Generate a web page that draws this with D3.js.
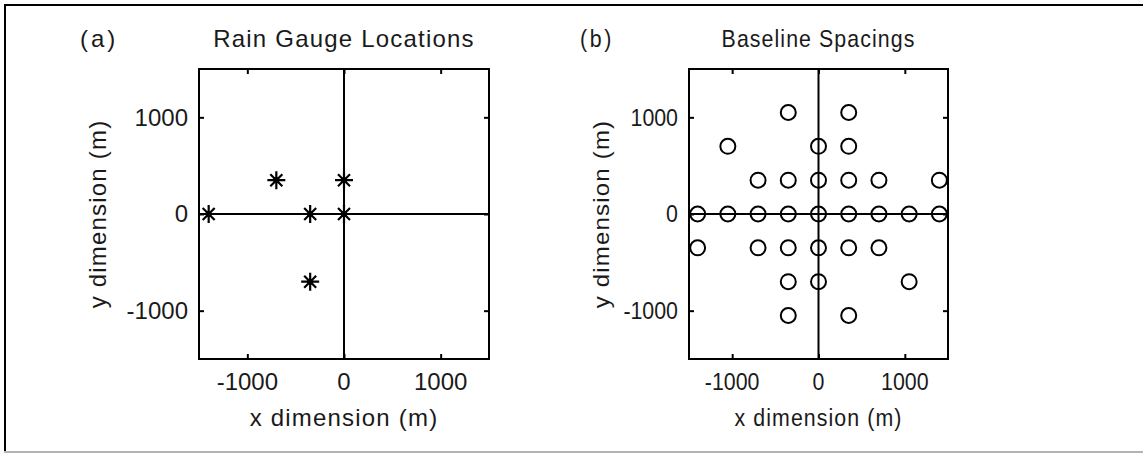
<!DOCTYPE html>
<html>
<head>
<meta charset="utf-8">
<script src="https://cdn.jsdelivr.net/npm/d3@7"></script>
<style>
    html, body { margin: 0; padding: 0; background: #fff; }
    svg { display: block; font-family: "Liberation Sans", Arial, sans-serif; }
    .lbl { fill: #1a1a1a; font-size: 24px; }
</style>
</head>
<body>
<div id="chart"></div>
<script>
// axis ticks (m)
const tickValues = [-1000, 0, 1000];
const domainMin = -1500;
const domainMax = 1500;

// (a) rain gauge locations (m)
const gaugeX = [-1400, -700, -350, 0, 0, -350];
const gaugeY = [0, 350, 0, 350, 0, -700];

// (b) baseline spacings (m)
const spacingX = [-350, 350,
    -1050, 0, 350,
    -700, -350, 0, 350, 700, 1400,
    -1400, -1050, -700, -350, 0, 350, 700, 1050, 1400,
    -1400, -700, -350, 0, 350, 700,
    -350, 0, 1050,
    -350, 350];
const spacingY = [1050, 1050,
    700, 700, 700,
    350, 350, 350, 350, 350, 350,
    0, 0, 0, 0, 0, 0, 0, 0, 0,
    -350, -350, -350, -350, -350, -350,
    -700, -700, -700,
    -1050, -1050];

const width = 1143;
const height = 453;

const svg = d3.select("#chart").append("svg")
    .attr("width", width)
    .attr("height", height)
    .attr("viewBox", [0, 0, width, height]);

// figure frame
svg.append("line").attr("x1", 4).attr("x2", width).attr("y1", 5).attr("y2", 5)
    .attr("stroke", "#000").attr("stroke-width", 2);
svg.append("line").attr("x1", 5).attr("x2", 5).attr("y1", 4).attr("y2", height)
    .attr("stroke", "#000").attr("stroke-width", 2);
svg.append("line").attr("x1", 4).attr("x2", width).attr("y1", 452).attr("y2", 452)
    .attr("stroke", "#b4b4b4").attr("stroke-width", 2);

function label(g, x, y, txt, opts) {
    const o = Object.assign({anchor: "start", sx: 1, rotate: 0, ls: 0, dy: null}, opts);
    const t = g.append("text")
        .attr("class", "lbl")
        .attr("transform", `translate(${x},${y}) scale(${o.sx},1)` + (o.rotate ? ` rotate(${o.rotate})` : ""))
        .attr("text-anchor", o.anchor)
        .attr("letter-spacing", o.ls)
        .text(txt);
    if (o.dy) t.attr("dy", o.dy);
    return t;
}

const starPath = "M-9,0H9M0,-9V9M-6,-6L6,6M-6,6L6,-6";

function panel(cfg) {
    const g = svg.append("g");
    const x = d3.scaleLinear().domain([domainMin, domainMax]).range([cfg.left, cfg.right]);
    const y = d3.scaleLinear().domain([domainMin, domainMax]).range([cfg.bottom, cfg.top]);
    const sx = cfg.sx;

    // inward ticks on all four sides
    const tickAxis = (axis, tx, ty) => g.append("g")
        .attr("transform", `translate(${tx},${ty})`)
        .call(axis.tickValues(tickValues).tickSize(-5).tickFormat(""))
        .call(a => a.select(".domain").remove())
        .call(a => a.selectAll("line").attr("stroke", "#000").attr("stroke-width", 2));
    tickAxis(d3.axisBottom(x), 0, cfg.bottom);
    tickAxis(d3.axisTop(x), 0, cfg.top);
    tickAxis(d3.axisLeft(y), cfg.left, 0);
    tickAxis(d3.axisRight(y), cfg.right, 0);

    // zero lines
    g.append("line")
        .attr("x1", x(0)).attr("x2", x(0))
        .attr("y1", y(domainMin)).attr("y2", y(domainMax))
        .attr("stroke", "#000").attr("stroke-width", 2);
    g.append("line")
        .attr("x1", x(domainMin)).attr("x2", x(domainMax))
        .attr("y1", y(0)).attr("y2", y(0))
        .attr("stroke", "#000").attr("stroke-width", 2);

    // box
    g.append("rect")
        .attr("x", cfg.left).attr("y", cfg.top)
        .attr("width", cfg.right - cfg.left).attr("height", cfg.bottom - cfg.top)
        .attr("fill", "none").attr("stroke", "#000").attr("stroke-width", 2);

    // tick labels
    tickValues.forEach(v => {
        label(g, x(v), cfg.bottom + 31, v, {anchor: "middle", sx: sx});
        label(g, cfg.left - 11, y(v), v, {anchor: "end", sx: sx, dy: "0.35em"});
    });

    // marks
    const px = cfg.xs, py = cfg.ys;
    if (cfg.marker === "star") {
        const m = g.append("g").selectAll("g")
            .data(d3.range(px.length))
            .join("g")
            .attr("transform", i => `translate(${x(px[i])},${y(py[i])})`);
        m.append("path").attr("d", starPath)
            .attr("stroke", "#000").attr("stroke-width", 2.2).attr("fill", "none");
        m.append("circle").attr("r", 3).attr("fill", "#000");
    } else {
        g.append("g").selectAll("circle")
            .data(d3.range(px.length))
            .join("circle")
            .attr("cx", i => x(px[i]))
            .attr("cy", i => y(py[i]))
            .attr("r", 7.5)
            .attr("fill", "none")
            .attr("stroke", "#000")
            .attr("stroke-width", 2);
    }

    // titles and axis labels
    const cx = (cfg.left + cfg.right) / 2;
    const cy = (cfg.top + cfg.bottom) / 2;
    label(g, cfg.tagX, 47, cfg.tag, {sx: sx, ls: 3});
    label(g, cx, 47, cfg.title, {anchor: "middle", sx: sx, ls: 1.2});
    label(g, cx, 426, "x dimension (m)", {anchor: "middle", sx: sx, ls: 1.2});
    label(g, cfg.yLabelX, cy, "y dimension (m)", {anchor: "middle", sx: sx, ls: 1.2, rotate: -90});
}

panel({
    left: 199, right: 489, top: 69, bottom: 359, sx: 1,
    tag: "(a)", tagX: 80, yLabelX: 106,
    title: "Rain Gauge Locations",
    xs: gaugeX, ys: gaugeY, marker: "star"
});

panel({
    left: 689, right: 948, top: 69, bottom: 359, sx: 0.89,
    tag: "(b)", tagX: 580, yLabelX: 609,
    title: "Baseline Spacings",
    xs: spacingX, ys: spacingY, marker: "circle"
});
</script>
</body>
</html>
